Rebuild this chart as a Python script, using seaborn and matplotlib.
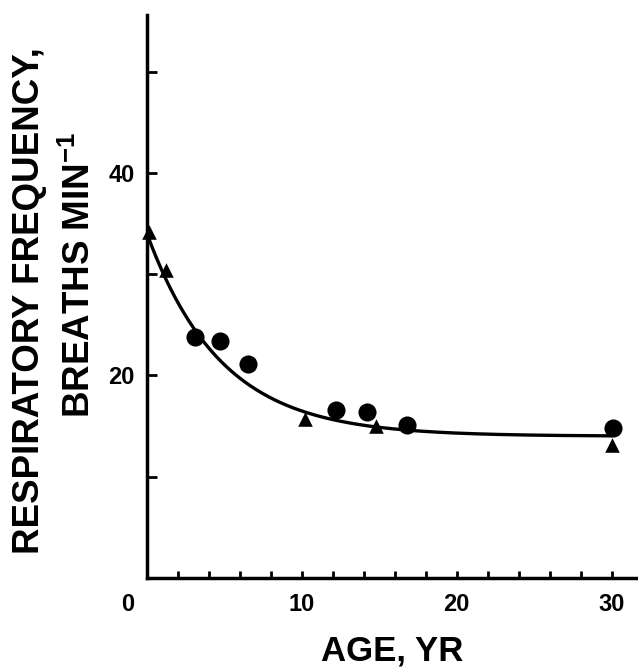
import numpy as np
import pandas as pd
import matplotlib
matplotlib.use("Agg")
import matplotlib.pyplot as plt
from matplotlib.transforms import ScaledTranslation
import seaborn as sns

# Mean respiratory frequency by age (two groups of subjects)
circle_age = [3.1, 4.7, 6.5, 12.2, 14.2, 16.8, 30.1]
circle_rate = [23.8, 23.4, 21.1, 16.6, 16.4, 15.1, 14.8]
triangle_age = [0.15, 1.2, 10.2, 14.8, 30.0]
triangle_rate = [34.2, 30.4, 15.7, 15.0, 13.1]

# Exponential fit: rate = plateau + amplitude * exp(-age / tau)
fit_plateau = 14.0
fit_amplitude = 20.0
fit_tau = 4.8

x_ticks = list(range(0, 31, 2))
x_tick_labels = ["0", "10", "20", "30"]
y_ticks = [10, 20, 30, 40, 50]
y_tick_labels = ["20", "40"]

sns.set_theme(style="ticks")
plt.rcParams["font.family"] = ["Liberation Sans", "DejaVu Sans"]
plt.rcParams["font.weight"] = "bold"
plt.rcParams["mathtext.fontset"] = "custom"
plt.rcParams["mathtext.rm"] = "Liberation Sans:bold"
plt.rcParams["mathtext.bf"] = "Liberation Sans:bold"
plt.rcParams["mathtext.default"] = "bf"

points = pd.concat([
    pd.DataFrame({"age": circle_age, "rate": circle_rate, "group": "circle"}),
    pd.DataFrame({"age": triangle_age, "rate": triangle_rate, "group": "triangle"}),
], ignore_index=True)

age_grid = np.linspace(0, 30, 300)
curve = pd.DataFrame({
    "age": age_grid,
    "rate": fit_plateau + fit_amplitude * np.exp(-age_grid / fit_tau),
})

fig = plt.figure(figsize=(6.38, 6.72), dpi=100)
fig.patch.set_facecolor("white")
ax = fig.add_axes([147 / 638, 94 / 672, 491 / 638, 563 / 672])
ax.set_facecolor("white")

sns.lineplot(data=curve, x="age", y="rate", color="black", linewidth=2.4, ax=ax)
sns.scatterplot(data=points[points.group == "circle"], x="age", y="rate",
                marker="o", s=170, color="black", edgecolor="black",
                linewidth=0, ax=ax, clip_on=False, zorder=3)
sns.scatterplot(data=points[points.group == "triangle"], x="age", y="rate",
                marker="^", s=110, color="black", edgecolor="black",
                linewidth=0, ax=ax, clip_on=False, zorder=3)

ax.set_xlim(0, 31.7)
ax.set_ylim(0, 55.6)
sns.despine(ax=ax)
for side in ("left", "bottom"):
    ax.spines[side].set_linewidth(2.5)
    ax.spines[side].set_color("black")

ax.set_xticks(x_ticks)
ax.set_xticklabels([str(t) if str(t) in x_tick_labels else "" for t in x_ticks])
ax.set_yticks(y_ticks)
ax.set_yticklabels([str(t) if str(t) in y_tick_labels else "" for t in y_ticks])
ax.tick_params(axis="x", direction="in", length=5, width=2, pad=11,
               labelsize=17, colors="black")
ax.tick_params(axis="y", direction="in", length=7, width=2, pad=9,
               labelsize=17, colors="black")
for lab in ax.get_xticklabels() + ax.get_yticklabels():
    lab.set_fontweight("bold")

# The origin label sits a little left of the corner
zero_label = ax.get_xticklabels()[0]
zero_label.set_transform(zero_label.get_transform()
                         + ScaledTranslation(-0.19, 0, fig.dpi_scale_trans))

ax.set_xlabel("AGE, YR", fontsize=25, fontweight="bold", labelpad=13, color="black")
ax.set_ylabel("")

fig.text(30 / 638, 1 - 301 / 672, "RESPIRATORY FREQUENCY,", rotation=90,
         ha="center", va="center", fontsize=26.5, fontweight="bold", color="black")
fig.text(80 / 638, 1 - 275 / 672, r"BREATHS MIN$^{-1}$", rotation=90,
         ha="center", va="center", fontsize=26.5, fontweight="bold", color="black")

fig.savefig("out.png", dpi=100, facecolor="white")
